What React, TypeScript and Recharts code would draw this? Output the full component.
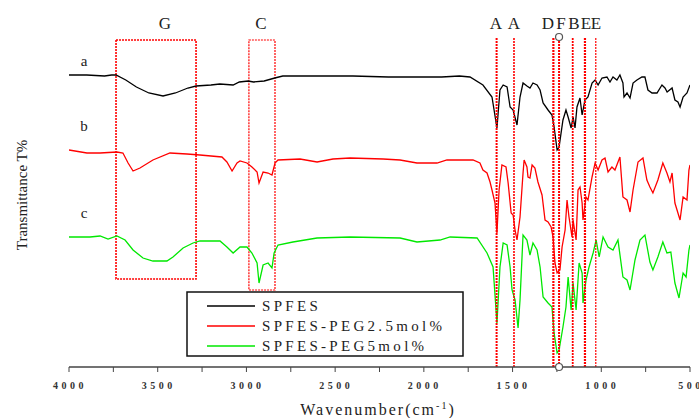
import React from 'react'
import {
  LineChart,
  Line,
  XAxis,
  YAxis,
  ReferenceLine,
  ReferenceArea,
  ReferenceDot,
} from 'recharts'

// wavenumbers (cm-1) and transmittance (arbitrary, offset spectra)
const waveA = [4000,3900,3800,3760,3735,3680,3620,3550,3470,3400,3330,3284,3200,3150,3075,3040,2990,2960,2900,2840,2795,2600,2400,2200,2000,1900,1800,1740,1667,1616,1588,1571,1553,1531,1514,1497,1475,1458,1441,1419,1402,1385,1362,1345,1328,1300,1278,1266,1249,1238,1216,1199,1187,1170,1159,1148,1137,1120,1108,1092,1075,1052,1035,1018,996,968,951,934,912,895,878,872,855,838,821,799,771,754,737,714,686,658,641,629,601,585,568,556,539,517,500]
const transA = [292,292,291,292,292,287,280,274,271,274,279,281,282,283,282,285,286,285,286,289,291,291,291,290,290,290,291,290,282,270,239,277,282,280,260,257,242,270,284,281,279,284,282,277,264,257,252,240,217,220,247,257,250,239,250,239,260,269,252,267,270,284,287,282,289,290,285,290,287,292,284,270,274,269,284,287,290,290,277,274,274,282,279,275,279,267,265,260,270,274,282]

const waveB = [4000,3899,3825,3730,3696,3667,3639,3600,3527,3431,3335,3262,3138,3110,3081,3053,3036,2997,2969,2940,2929,2906,2878,2856,2839,2822,2698,2602,2512,2416,2230,2134,2039,1926,1870,1723,1684,1667,1644,1627,1616,1599,1588,1576,1560,1537,1525,1508,1497,1486,1475,1458,1441,1435,1419,1413,1402,1390,1374,1357,1334,1317,1300,1283,1272,1261,1249,1233,1221,1204,1193,1182,1165,1159,1142,1131,1120,1108,1103,1086,1075,1052,1035,1018,996,979,962,940,923,895,878,855,838,821,793,765,743,726,709,681,653,630,613,601,585,568,556,539,517,506,500]
const transB = [217,214,214,215,214,204,196,199,207,214,213,212,210,205,196,204,206,204,200,195,184,195,194,192,204,207,208,205,208,209,208,207,204,204,207,207,204,197,194,185,177,164,134,177,202,200,184,154,152,137,127,150,194,207,200,190,189,202,199,185,172,147,145,140,130,104,94,97,120,137,167,150,130,147,127,177,180,164,147,170,167,190,204,197,207,209,195,200,197,210,170,167,155,177,205,209,187,180,174,187,204,194,185,194,164,154,147,170,167,197,202]

const waveC = [4000,3882,3825,3780,3730,3684,3639,3583,3527,3448,3414,3357,3301,3262,3149,3110,3075,3036,2997,2969,2940,2929,2906,2878,2856,2844,2822,2738,2602,2416,2134,2039,1909,1852,1700,1644,1610,1588,1571,1553,1531,1514,1503,1486,1469,1458,1441,1419,1402,1385,1362,1345,1328,1300,1278,1266,1249,1238,1216,1199,1187,1170,1159,1142,1125,1108,1103,1086,1069,1046,1029,1012,990,962,934,906,878,855,838,810,782,754,726,709,681,653,630,608,585,562,539,522,506,500]
const transC = [130,130,131,128,131,127,117,109,106,106,110,119,124,126,126,120,114,120,120,114,104,84,102,104,99,114,122,125,129,130,129,125,127,130,129,114,100,44,100,124,122,100,77,67,39,67,132,127,112,124,117,100,70,64,60,34,14,17,40,60,90,57,84,57,104,94,64,87,100,114,127,110,130,120,117,127,90,87,77,107,127,132,105,97,110,125,114,115,84,69,94,90,117,122]

const seriesNames = ['SPFES', 'SPFES-PEG2.5mol%', 'SPFES-PEG5mol%']
const xTicks = [4000,3750,3500,3250,3000,2750,2500,2250,2000,1750,1500,1250,1000,750,500]

// assigned bands (dotted marker lines) and regions
const peakWave = [1590, 1492, 1270, 1238, 1161, 1092, 1031]
const regionG = { x1: 3735, x2: 3284, y1: 88, y2: 327 }
const regionC = { x1: 2986, x2: 2839, y1: 77, y2: 327 }
const circleWave = 1238

const peakStroke = [2, 1.6, 2.2, 2, 1.8, 2.2, 1.2]
const colors = ['#000000', '#ff0000', '#00e800']

const zip = (w: number[], t: number[]) => w.map((wn, i) => ({ wn, t: t[i] }))
const dataA = zip(waveA, transA)
const dataB = zip(waveB, transB)
const dataC = zip(waveC, transC)

const serif = 'Liberation Serif'

export default function App() {
  return (
    <div style={{ position: 'absolute', left: 0, top: 0, width: 699, height: 418, background: '#fff' }}>
      <LineChart width={699} height={418} margin={{ top: 37, right: 9, bottom: 21, left: 69 }}>
        <XAxis
          type="number"
          dataKey="wn"
          domain={[500, 4000]}
          reversed
          ticks={xTicks}
          interval={0}
          allowDataOverflow
          height={30}
          tickSize={5}
          tickFormatter={(v: number) => (v % 500 === 0 ? String(v) : '')}
          tick={{ fontSize: 10, fill: '#333', fontWeight: 'bold', letterSpacing: 3.5, dx: 1, dy: 8, style: { fontFamily: serif } }}
          axisLine={{ stroke: '#444', strokeWidth: 1.5 }}
          tickLine={{ stroke: '#444' }}
        />
        <XAxis
          xAxisId="top"
          orientation="top"
          type="number"
          domain={[500, 4000]}
          reversed
          height={0}
          tick={false}
          tickLine={false}
          axisLine={{ stroke: '#444', strokeWidth: 1.5 }}
        />
        <YAxis
          domain={[0, 330]}
          width={0}
          tick={false}
          tickLine={false}
          axisLine={{ stroke: '#444', strokeWidth: 1.5 }}
        />
        <YAxis
          yAxisId="right"
          orientation="right"
          domain={[0, 330]}
          width={0}
          tick={false}
          tickLine={false}
          axisLine={{ stroke: '#444', strokeWidth: 1.5 }}
        />
        <ReferenceArea {...regionG} stroke="#ff0000" strokeWidth={1.6} strokeDasharray="2 1" fill="none" fillOpacity={0} ifOverflow="visible" />
        <ReferenceArea {...regionC} stroke="#ff0000" strokeWidth={1.2} strokeDasharray="2 1" fill="none" fillOpacity={0} ifOverflow="visible" />
        <Line data={dataA} dataKey="t" type="linear" stroke={colors[0]} strokeWidth={1.3} dot={false} isAnimationActive={false} name={seriesNames[0]} />
        <Line data={dataB} dataKey="t" type="linear" stroke={colors[1]} strokeWidth={1.3} dot={false} isAnimationActive={false} name={seriesNames[1]} />
        <Line data={dataC} dataKey="t" type="linear" stroke={colors[2]} strokeWidth={1.3} dot={false} isAnimationActive={false} name={seriesNames[2]} />
        {peakWave.map((w, i) => (
          <ReferenceLine key={w} x={w} stroke="#ff0000" strokeWidth={peakStroke[i]} strokeDasharray="2 1" />
        ))}
        <ReferenceDot x={circleWave} y={330} r={3.5} fill="#fff" stroke="#555" strokeWidth={1.2} ifOverflow="visible" />
        <ReferenceDot x={circleWave} y={0} r={3.5} fill="#fff" stroke="#555" strokeWidth={1.2} ifOverflow="visible" />
      </LineChart>

      <svg width={699} height={418} style={{ position: 'absolute', left: 0, top: 0, pointerEvents: 'none', fontFamily: serif }}>
        <g fontSize={17} fill="#222" textAnchor="middle">
          <text x={165} y={29}>G</text>
          <text x={261} y={29}>C</text>
          <text x={496} y={29}>A</text>
          <text x={514} y={29}>A</text>
          <text x={548} y={29}>D</text>
          <text x={561} y={29}>F</text>
          <text x={574} y={29}>B</text>
          <text x={586} y={29}>E</text>
          <text x={596} y={29}>E</text>
        </g>
        <g fontSize={15} fill="#222" textAnchor="middle">
          <text x={84} y={66}>a</text>
          <text x={84} y={131}>b</text>
          <text x={84} y={218}>c</text>
        </g>
        <text x={27} y={195} fontSize={15} fill="#222" textAnchor="middle" transform="rotate(-90 27 195)">
          Transmittance T%
        </text>
        <text x={378} y={415} fontSize={16} fill="#222" textAnchor="middle" letterSpacing={2}>
          Wavenumber(cm<tspan dy={-6} fontSize={10}>-1</tspan><tspan dy={6}>)</tspan>
        </text>
        <rect x={187} y={292} width={276} height={64} fill="#fff" stroke="#111" strokeWidth={1.5} />
        {seriesNames.map((n, i) => (
          <g key={n}>
            <line x1={207} x2={255} y1={306 + i * 20} y2={306 + i * 20} stroke={colors[i]} strokeWidth={1.5} />
            <text x={262} y={311 + i * 20} fontSize={15} fill="#222" letterSpacing={3.3}>{n}</text>
          </g>
        ))}
      </svg>
    </div>
  )
}
